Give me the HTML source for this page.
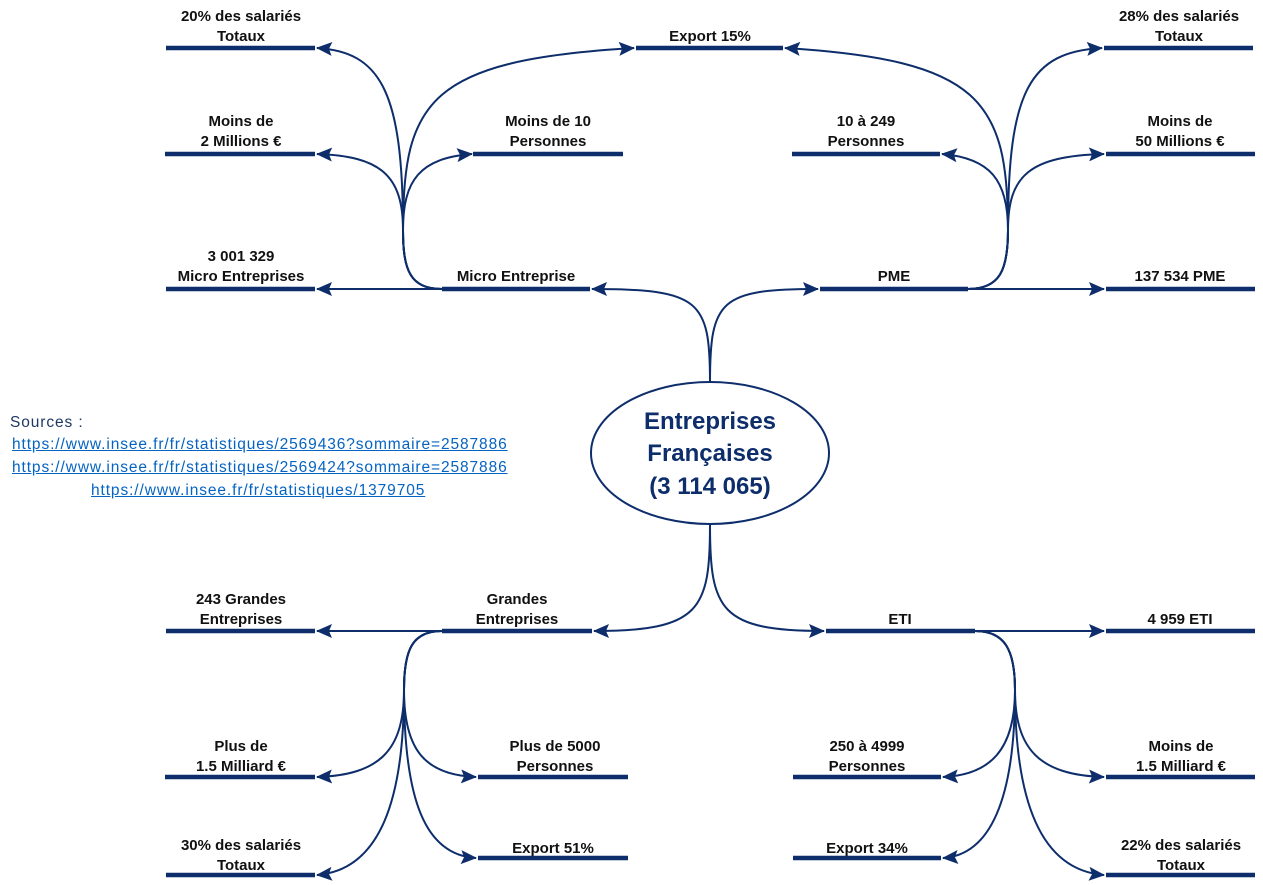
<!DOCTYPE html>
<html><head><meta charset="utf-8"><style>
body{margin:0;background:#fff;width:1263px;height:885px;overflow:hidden;position:relative}
svg{position:absolute;left:0;top:0}
.t{font-family:"Liberation Sans",sans-serif;font-weight:bold;font-size:15px;fill:#111;text-anchor:middle}
.src{position:absolute;font-family:"Liberation Sans",sans-serif;font-size:15.5px;letter-spacing:0.9px;color:#0563c1;text-decoration:underline;white-space:nowrap}
</style></head><body>
<svg width="1263" height="885" viewBox="0 0 1263 885">
<defs><marker id="a" markerWidth="16" markerHeight="14" refX="15" refY="7" orient="auto" markerUnits="userSpaceOnUse"><path d="M0,0 L16,7 L0,14 L3,7 Z" fill="#0d2d6b"/></marker></defs>
<g stroke="#0d2d6b" stroke-width="4.5" fill="none">
<path d="M166,48H315M165,154H315M166,289H315M473,154H623M636,48H783M442,289H590M820,289H968M792,154H940M1104,48H1253M1106,154H1255M1106,289H1255"/>
<path d="M166,631H315M442,631H592M826,631H975M1106,631H1255M165,777H315M478,777H628M166,875H315M478,858H628M793,777H941M793,858H941M1106,777H1255M1106,875H1255"/>
</g>
<g stroke="#0d2d6b" stroke-width="2" fill="none" marker-end="url(#a)">
<path d="M710,382C710,300 700,289 592,289"/>
<path d="M710,382C710,300 720,289 818,289"/>
<path d="M710,525C710,610 700,631 594,631"/>
<path d="M710,525C710,610 720,631 824,631"/>
<path d="M442,289C410,289 403,270 403,230C403,90 380,52 317,48"/>
<path d="M442,289C410,289 403,270 403,230C403,175 380,156 317,154"/>
<path d="M442,289H317"/>
<path d="M442,289C410,289 403,270 403,230C403,180 420,158 472,154"/>
<path d="M442,289C410,289 403,270 403,230C403,100 430,60 634,48"/>
<path d="M968,289C1000,289 1008,270 1008,230C1008,100 980,60 785,48"/>
<path d="M968,289C1000,289 1008,270 1008,230C1008,180 990,158 942,154"/>
<path d="M968,289C1000,289 1008,270 1008,230C1008,90 1030,52 1102,48"/>
<path d="M968,289C1000,289 1008,270 1008,230C1008,175 1030,156 1104,154"/>
<path d="M968,289H1104"/>
<path d="M442,631H317"/>
<path d="M442,631C412,631 404,650 404,690C404,750 380,775 317,777"/>
<path d="M442,631C412,631 404,650 404,690C404,800 380,870 317,875"/>
<path d="M442,631C412,631 404,650 404,690C404,750 425,775 476,777"/>
<path d="M442,631C412,631 404,650 404,690C404,800 425,855 476,858"/>
<path d="M975,631H1104"/>
<path d="M975,631C1005,631 1015,650 1015,690C1015,750 990,775 943,777"/>
<path d="M975,631C1005,631 1015,650 1015,690C1015,800 990,855 943,858"/>
<path d="M975,631C1005,631 1015,650 1015,690C1015,750 1040,775 1104,777"/>
<path d="M975,631C1005,631 1015,650 1015,690C1015,800 1040,870 1104,875"/>
</g>
<ellipse cx="710" cy="453" rx="119" ry="71" fill="#fff" stroke="#0d2d6b" stroke-width="2"/>
<g class="t" style="font-size:24px;fill:#0d2d6b"><text x="710" y="429">Entreprises</text><text x="710" y="461">Françaises</text><text x="710" y="494">(3 114 065)</text></g>
<g class="t">
<text x="241" y="21">20% des salariés</text><text x="241" y="41">Totaux</text>
<text x="241" y="126">Moins de</text><text x="241" y="146">2 Millions €</text>
<text x="241" y="261">3 001 329</text><text x="241" y="281">Micro Entreprises</text>
<text x="548" y="126">Moins de 10</text><text x="548" y="146">Personnes</text>
<text x="710" y="41">Export 15%</text>
<text x="516" y="281">Micro Entreprise</text>
<text x="894" y="281">PME</text>
<text x="866" y="126">10 à 249</text><text x="866" y="146">Personnes</text>
<text x="1179" y="21">28% des salariés</text><text x="1179" y="41">Totaux</text>
<text x="1180" y="126">Moins de</text><text x="1180" y="146">50 Millions €</text>
<text x="1180" y="281">137 534 PME</text>
<text x="241" y="604">243 Grandes</text><text x="241" y="624">Entreprises</text>
<text x="517" y="604">Grandes</text><text x="517" y="624">Entreprises</text>
<text x="900" y="624">ETI</text>
<text x="1180" y="624">4 959 ETI</text>
<text x="241" y="751">Plus de</text><text x="241" y="771">1.5 Milliard €</text>
<text x="555" y="751">Plus de 5000</text><text x="555" y="771">Personnes</text>
<text x="241" y="850">30% des salariés</text><text x="241" y="870">Totaux</text>
<text x="553" y="853">Export 51%</text>
<text x="867" y="751">250 à 4999</text><text x="867" y="771">Personnes</text>
<text x="867" y="853">Export 34%</text>
<text x="1181" y="751">Moins de</text><text x="1181" y="771">1.5 Milliard €</text>
<text x="1181" y="850">22% des salariés</text><text x="1181" y="870">Totaux</text>
</g>
</svg>
<div class="src" style="left:10px;top:414px;color:#1f3864;text-decoration:none">Sources :</div>
<div class="src" style="left:12px;top:436px">https://www.insee.fr/fr/statistiques/2569436?sommaire=2587886</div>
<div class="src" style="left:12px;top:459px">https://www.insee.fr/fr/statistiques/2569424?sommaire=2587886</div>
<div class="src" style="left:91px;top:482px">https://www.insee.fr/fr/statistiques/1379705</div>
</body></html>
